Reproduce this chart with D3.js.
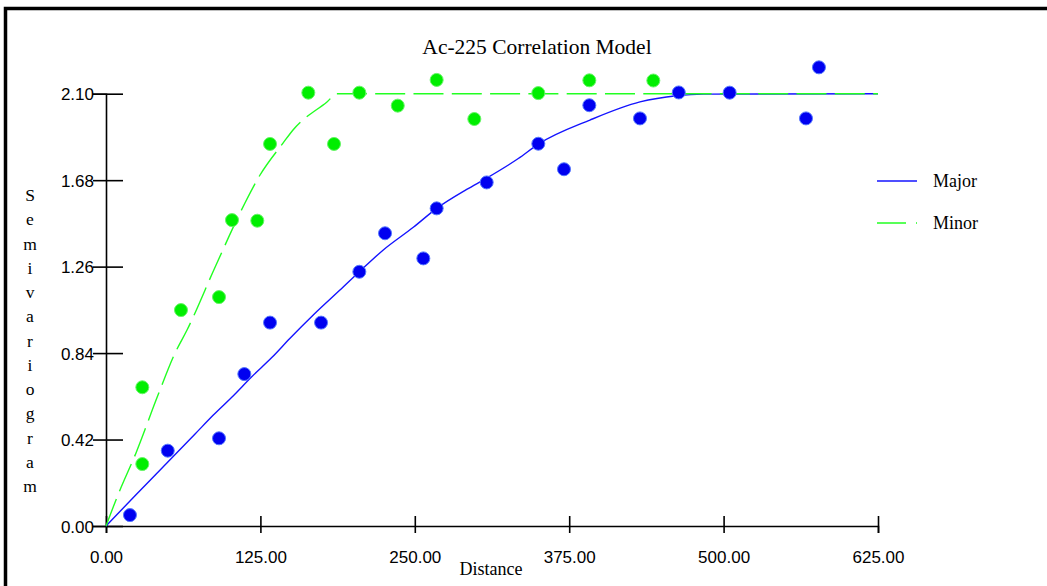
<!DOCTYPE html>
<html>
<head>
<meta charset="utf-8">
<script src="https://cdn.jsdelivr.net/npm/d3@7"></script>
<style>
  html, body { margin: 0; padding: 0; background: #ffffff; }
  svg { display: block; }
</style>
</head>
<body>
<svg id="chart" width="1047" height="586"></svg>
<script>
// ---- data ----
const chartTitle = "Ac-225 Correlation Model";
const xAxisTitle = "Distance";
const yAxisTitle = "Semivariogram";
const xTicks = [0, 125, 250, 375, 500, 625];
const yTicks = [0, 0.42, 0.84, 1.26, 1.68, 2.10];
const seriesNames = ["Major", "Minor"];

// experimental points, Major direction (blue)
const majorX = [19.4, 50.0, 91.5, 112.0, 132.8, 174.1, 205.1, 225.9, 256.9, 267.7, 308.2, 350.0, 370.8, 391.3, 432.3, 463.7, 504.9, 566.7, 577.2];
const majorY = [0.053, 0.366, 0.426, 0.738, 0.988, 0.988, 1.235, 1.422, 1.300, 1.543, 1.669, 1.857, 1.733, 2.044, 1.980, 2.106, 2.105, 1.980, 2.228];

// experimental points, Minor direction (green)
const minorX = [29.4, 29.4, 60.7, 91.5, 102.0, 122.5, 132.8, 163.8, 184.6, 205.1, 236.2, 267.7, 298.2, 350.0, 391.3, 443.1];
const minorY = [0.674, 0.301, 1.049, 1.112, 1.486, 1.483, 1.856, 2.105, 1.856, 2.105, 2.042, 2.167, 1.977, 2.103, 2.165, 2.164];

// model curves
const majorModelX = [0, 23.5, 49.1, 72.1, 86.9, 103.1, 118.0, 134.2, 149.0, 167.8, 189.4, 205.1, 224.5, 248.8, 267.7, 292.0, 308.2, 333.8, 350.0, 391.8, 432.3, 462.0, 483.6, 625];
const majorModelY = [0, 0.147, 0.305, 0.447, 0.539, 0.633, 0.725, 0.818, 0.912, 1.025, 1.146, 1.235, 1.341, 1.451, 1.543, 1.635, 1.690, 1.785, 1.855, 1.972, 2.060, 2.090, 2.098, 2.10];
const minorModelX = [0, 9.7, 24.3, 42.1, 55.9, 65.6, 89.1, 112.5, 124.7, 143.3, 151.4, 178.9, 187.0, 625];
const minorModelY = [0, 0.151, 0.355, 0.636, 0.840, 0.952, 1.268, 1.569, 1.705, 1.860, 1.924, 2.060, 2.10, 2.10];

// ---- drawing ----
const svg = d3.select("#chart");
const serif = "'Liberation Serif', 'Times New Roman', serif";
const sans = "'Liberation Sans', Arial, sans-serif";
const blue = "#1414ff", blueDot = "#0000f0", blueRim = "#5577ff";
const green = "#22ff22", greenDot = "#00ee00", greenRim = "#66f566";
const dash = [30, 8.3];

// frame
svg.append("path")
  .attr("d", "M5.5,586 V8.5 H1047")
  .attr("fill", "none").attr("stroke", "#000").attr("stroke-width", 3.5);

const x = d3.scaleLinear().domain([0, 625]).range([106, 878]);
const y = d3.scaleLinear().domain([0, 2.10]).range([526, 93.7]);

// title
svg.append("text").text(chartTitle)
  .attr("x", 537).attr("y", 54).attr("text-anchor", "middle")
  .attr("font-family", serif).attr("font-size", 21.5).attr("fill", "#000");

// x axis
const gx = svg.append("g").attr("transform", "translate(0,526)")
  .call(d3.axisBottom(x).tickValues(xTicks).tickFormat(d3.format(".2f")).tickSizeOuter(0).tickSize(7).tickPadding(0));
gx.select(".domain").attr("stroke", "#000").attr("stroke-width", 1.6);
gx.selectAll(".tick line").attr("y1", -10).attr("y2", 7).attr("stroke", "#000").attr("stroke-width", 1.6);
gx.selectAll(".tick text").attr("y", 36.5).attr("dy", 0)
  .attr("font-family", sans).attr("font-size", 17).attr("fill", "#000");

// y axis
const gy = svg.append("g").attr("transform", "translate(106,0)")
  .call(d3.axisLeft(y).tickValues(yTicks).tickFormat(d3.format(".2f")).tickSizeOuter(0).tickSize(13).tickPadding(0));
gy.select(".domain").attr("stroke", "#000").attr("stroke-width", 1.6);
gy.selectAll(".tick line").attr("x1", 17).attr("x2", -13).attr("stroke", "#000").attr("stroke-width", 1.6);
gy.selectAll(".tick text").attr("x", -12).attr("dy", "0.36em")
  .attr("font-family", sans).attr("font-size", 17).attr("fill", "#000");

// axis titles
svg.append("text").text(xAxisTitle)
  .attr("x", 491).attr("y", 575).attr("text-anchor", "middle")
  .attr("font-family", serif).attr("font-size", 18).attr("fill", "#000");

svg.append("g").selectAll("text")
  .data(yAxisTitle.split(""))
  .join("text")
  .text(d => d)
  .attr("x", 30).attr("y", (d, i) => 201 + i * 24.25)
  .attr("text-anchor", "middle")
  .attr("font-family", serif).attr("font-size", 17.5).attr("fill", "#000");

// model curves
const line = d3.line().x(d => x(d[0])).y(d => y(d[1])).curve(d3.curveMonotoneX);
const majorModel = majorModelX.map((v, i) => [v, majorModelY[i]]);
const minorModel = minorModelX.map((v, i) => [v, minorModelY[i]]);

svg.append("path").datum(majorModel)
  .attr("d", line).attr("fill", "none")
  .attr("stroke", blue).attr("stroke-width", 1.4);

const minorPath = svg.append("path").datum(minorModel)
  .attr("d", line).attr("fill", "none")
  .attr("stroke", green).attr("stroke-width", 1.4)
  .attr("stroke-dasharray", dash.join(","));
// align the dash phase so a dash starts at x=451.7 on the flat sill
const total = minorPath.node().getTotalLength();
const period = dash[0] + dash[1];
const startLen = total - (x(625) - 451.7);
const off = ((-(startLen % period)) % period + period) % period;
minorPath.attr("stroke-dashoffset", off);

// points
const majorPts = majorX.map((v, i) => [v, majorY[i]]);
const minorPts = minorX.map((v, i) => [v, minorY[i]]);

svg.append("g").selectAll("circle").data(minorPts).join("circle")
  .attr("cx", d => x(d[0])).attr("cy", d => y(d[1])).attr("r", 6.5)
  .attr("fill", greenDot).attr("stroke", greenRim).attr("stroke-width", 1);

svg.append("g").selectAll("circle").data(majorPts).join("circle")
  .attr("cx", d => x(d[0])).attr("cy", d => y(d[1])).attr("r", 6.5)
  .attr("fill", blueDot).attr("stroke", blueRim).attr("stroke-width", 1);

// legend
const legend = svg.append("g");
const legendRows = [
  { name: seriesNames[0], color: blue, dashed: false, y: 181 },
  { name: seriesNames[1], color: green, dashed: true, y: 223 }
];
legendRows.forEach(r => {
  legend.append("line")
    .attr("x1", 877).attr("x2", 917).attr("y1", r.y).attr("y2", r.y)
    .attr("stroke", r.color).attr("stroke-width", 1.6)
    .attr("stroke-dasharray", r.dashed ? "29,10" : null);
  legend.append("text").text(r.name)
    .attr("x", 933).attr("y", r.y + 6)
    .attr("font-family", serif).attr("font-size", 18).attr("fill", "#000");
});
</script>
</body>
</html>
